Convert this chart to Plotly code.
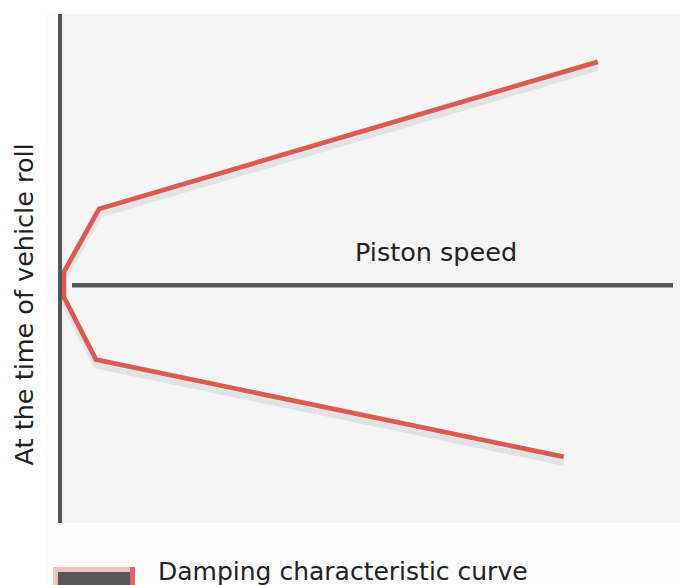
import plotly.graph_objects as go

# Canvas and plot-area geometry (pixels)
W, H = 680, 585
L, R, T, B = 62, 0, 14, 62
PW, PH = W - L - R, H - T - B

# Damping characteristic: piston speed vs. damping force
# (upper branch = extension, lower branch = compression)
speed = [86.4, 5.7, 0.0, 0.0, 5.2, 80.9]
force = [43.9, 15.0, 2.6, -2.3, -14.6, -33.7]

x_range = [-0.3, 99.7]
y_range = [-46.7, 53.3]

axis_label = "Piston speed"
y_label = "At the time of vehicle roll"
legend_label = "Damping characteristic curve"

FONT = "DejaVu Sans"
TEXT = "#222222"
AXIS = "#555555"
RED = "#dc5a4f"


def px_x(p):
    return (p - L) / PW


def px_y(p):
    return (H - B - p) / PH


# drop shadow sits a few pixels below the curve
shadow_dy = 6 * (y_range[1] - y_range[0]) / PH

fig = go.Figure()

fig.add_trace(go.Scatter(
    x=speed, y=force, xaxis="x2", yaxis="y2", mode="lines",
    line=dict(color="rgba(0,0,0,0.07)", width=6),
    hoverinfo="skip", showlegend=False,
))
fig.add_trace(go.Scatter(
    x=speed, y=force, xaxis="x3", yaxis="y3", mode="lines",
    line=dict(color=RED, width=4.8),
    name=legend_label, showlegend=False,
))

hidden = dict(visible=False, showgrid=False, zeroline=False, fixedrange=True)

fig.update_layout(
    width=W, height=H,
    margin=dict(l=L, r=R, t=T, b=B, pad=0),
    paper_bgcolor="#ffffff",
    plot_bgcolor="rgba(0,0,0,0)",
    showlegend=False,
    xaxis=dict(range=x_range, showgrid=False, zeroline=False, showline=False,
               showticklabels=False, ticks=""),
    yaxis=dict(range=y_range, showgrid=False, zeroline=False, showline=True,
               linecolor=AXIS, linewidth=4, showticklabels=False, ticks=""),
    xaxis2=dict(range=x_range, overlaying="x", **hidden),
    yaxis2=dict(range=[y_range[0] + shadow_dy, y_range[1] + shadow_dy],
                overlaying="y", **hidden),
    xaxis3=dict(range=x_range, overlaying="x", **hidden),
    yaxis3=dict(range=y_range, overlaying="y", **hidden),
    shapes=[
        # light panel behind chart and key
        dict(type="rect", xref="paper", yref="paper", layer="below",
             x0=px_x(45), x1=1, y0=px_y(H + 5), y1=1,
             fillcolor="#fcfcfc", line=dict(width=0)),
        # plot area
        dict(type="rect", xref="paper", yref="paper", layer="below",
             x0=0, x1=1, y0=0, y1=1,
             fillcolor="#f5f5f5", line=dict(width=0)),
        # horizontal (piston speed) axis
        dict(type="line", xref="paper", yref="y", layer="below",
             x0=px_x(72), x1=px_x(673), y0=0, y1=0,
             line=dict(color=AXIS, width=4.5)),
        # key swatch
        dict(type="rect", xref="paper", yref="paper",
             x0=px_x(55.5), x1=px_x(132.5), y0=px_y(H + 20), y1=px_y(569.5),
             fillcolor="#585858", line=dict(color="#ecc5c1", width=5)),
        dict(type="rect", xref="paper", yref="paper",
             x0=px_x(130), x1=px_x(135), y0=px_y(H + 20), y1=px_y(567),
             fillcolor="#e0665c", line=dict(width=0)),
    ],
    annotations=[
        dict(text=axis_label, xref="paper", yref="paper",
             x=px_x(436), y=px_y(269), xanchor="center", yanchor="bottom",
             showarrow=False, font=dict(family=FONT, size=25.5, color=TEXT)),
        dict(text=y_label, xref="paper", yref="paper",
             x=px_x(24.4), y=px_y(304), xanchor="center", yanchor="middle",
             textangle=-90, showarrow=False,
             font=dict(family=FONT, size=25.5, color=TEXT)),
        dict(text=legend_label, xref="paper", yref="paper",
             x=px_x(156), y=px_y(555), xanchor="left", yanchor="top",
             showarrow=False, font=dict(family=FONT, size=25, color=TEXT)),
    ],
)

fig.write_html("out.html")
